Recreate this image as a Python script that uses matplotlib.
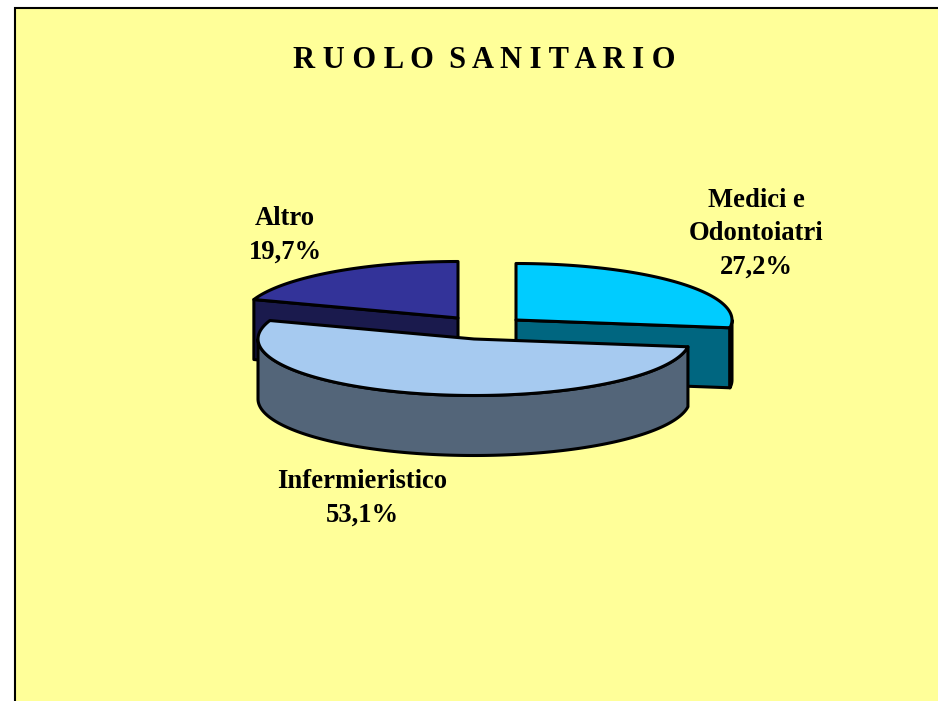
import numpy as np
import matplotlib
matplotlib.use('Agg')
import matplotlib.pyplot as plt
from matplotlib.patches import Polygon, Rectangle

plt.rcParams['font.family'] = ['Liberation Serif', 'DejaVu Serif']

# data
labels = ['Medici e\nOdontoiatri', 'Infermieristico', 'Altro']
values = [27.2, 53.1, 19.7]
title = 'R U O L O  S A N I T A R I O'

# look of each slice
top_colors = ['#00CCFF', '#A6CAF0', '#333399']
side_colors = ['#006680', '#536579', '#1A1A4D']
centers = [(516, 320), (474, 339), (458, 318)]
label_pos = [(756, 234), (362, 498), (285, 235)]

rx, ry = 216, 56.5
depth = 60
lw = 2.2


def rim(c, a0, a1):
    # points on the ellipse, angle clockwise from 12 o'clock
    t = np.radians(np.linspace(a0, a1, 200))
    return np.column_stack([c[0] + rx * np.sin(t), c[1] - ry * np.cos(t)])


fig = plt.figure(figsize=(9.38, 7.01), dpi=100, facecolor='white')
ax = fig.add_axes([0, 0, 1, 1])
ax.set_xlim(0, 938)
ax.set_ylim(701, 0)
ax.axis('off')

ax.add_patch(Rectangle((15, 8), 1000, 800, fc='#FFFF99', ec='black', lw=1.5, zorder=0))
ax.text(484.5, 61, title, ha='center', va='center', fontsize=22, fontweight='bold')

edges = np.cumsum([0] + values) * 3.6
down = np.array([0, depth])

# back slices first, front slice on top
for i in [2, 0, 1]:
    c = np.array(centers[i])
    a0, a1 = edges[i], edges[i + 1]
    z = 2 + i if i != 1 else 10

    # cut faces that look to the viewer
    if i == 2:
        e = rim(c, a0, a0 + 0.01)[0]
        ax.add_patch(Polygon([c, e, e + down, c + down], fc=side_colors[i], ec='black', lw=lw, joinstyle='round', zorder=z))
    if i == 0:
        e = rim(c, a1, a1 + 0.01)[0]
        ax.add_patch(Polygon([c, e, e + down, c + down], fc=side_colors[i], ec='black', lw=lw, joinstyle='round', zorder=z))

    # outer wall, only the part below the horizontal
    w0, w1 = max(a0, 90), min(a1, 270)
    if w1 > w0:
        r = rim(c, w0, w1)
        ax.add_patch(Polygon(np.vstack([r, (r + down)[::-1]]), fc=side_colors[i], ec='black', lw=lw, joinstyle='round', zorder=z))

    # top face
    ax.add_patch(Polygon(np.vstack([[c], rim(c, a0, a1)]), fc=top_colors[i], ec='black', lw=lw, joinstyle='round', zorder=z + 0.5))

    txt = labels[i] + '\n' + f'{values[i]:.1f}'.replace('.', ',') + '%'
    ax.text(label_pos[i][0], label_pos[i][1], txt, ha='center', va='center', fontsize=19.2,
            fontweight='bold', linespacing=1.44, zorder=20)

plt.savefig('out.png', dpi=100)
